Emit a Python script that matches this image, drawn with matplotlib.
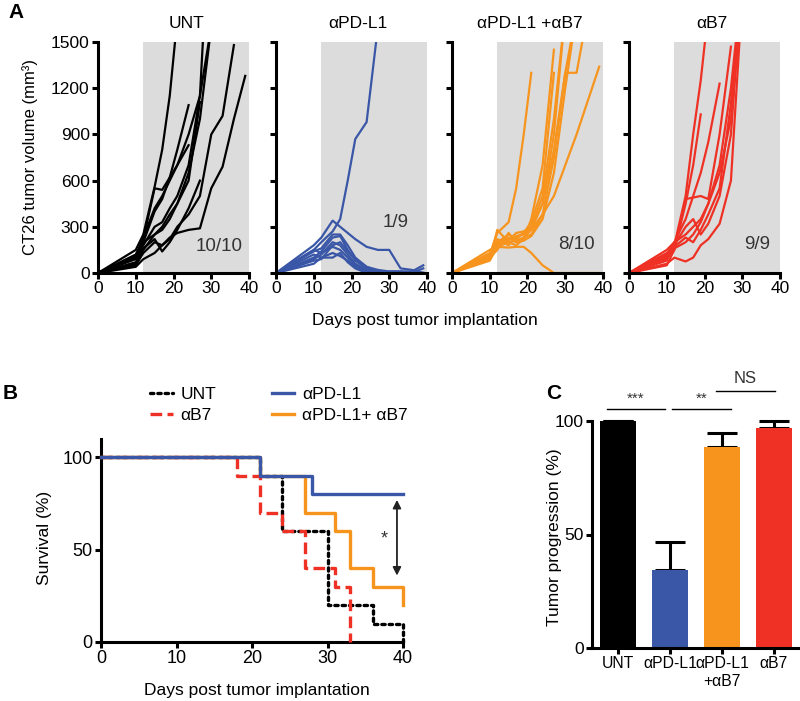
import matplotlib
matplotlib.use('Agg')
import matplotlib.pyplot as plt

plt.rcParams['font.family'] = ['Liberation Sans', 'DejaVu Sans']

# ---- panel A: individual tumour growth curves ----
days = [0, 10, 12, 15, 17, 19, 21, 24, 27, 30, 33, 36, 39]

unt_curves = [
    [0, 150, 250, 560, 800, 1150, 1650],
    [0, 120, 220, 550, 540, 620, 800, 1090],
    [0, 100, 200, 400, 480, 620, 700, 830],
    [0, 90, 180, 300, 330, 420, 500, 700, 1150, 1600],
    [0, 60, 150, 250, 300, 380, 450, 650, 1000, 1600],
    [0, 100, 230, 420, 500, 600, 700, 900, 1150, 2500],
    [0, 50, 130, 200, 180, 220, 300, 380, 500, 900, 1020, 1480],
    [0, 40, 90, 130, 180, 230, 260, 280, 290, 550, 690, 1000, 1280],
    [0, 110, 200, 250, 280, 350, 450, 600, 1110],
    [0, 70, 160, 220, 140, 200, 280, 420, 600],
]
pdl1_curves = [
    [0, 150, 200, 270, 350, 600, 870, 980, 1600],
    [0, 180, 230, 340, 300, 260, 220, 170, 150, 150, 30, 20, 0],
    [0, 140, 160, 250, 250, 180, 100, 40, 20, 10, 10, 10, 50],
    [0, 100, 140, 230, 240, 150, 80, 30, 10, 10, 10, 0, 0],
    [0, 90, 120, 200, 180, 120, 60, 20, 0, 0, 0, 0, 30],
    [0, 150, 130, 170, 150, 100, 50, 10, 0, 0, 0, 0, 0],
    [0, 60, 100, 130, 110, 80, 40, 10, 0, 0, 0, 0, 0],
    [0, 120, 100, 100, 130, 70, 30, 0, 0, 0, 0, 0, 0],
    [0, 80, 90, 180, 200, 140, 90, 40, 10, 0, 0, 0, 0],
]
combo_curves = [
    [0, 120, 260, 330, 550, 900, 1300],
    [0, 100, 200, 220, 230, 260, 280, 380, 500, 700, 900, 1120, 1340],
    [0, 150, 170, 165, 170, 170, 130, 50, 0, 0, 0, 0, 0],
    [0, 90, 280, 200, 180, 220, 350, 700, 1450],
    [0, 100, 200, 250, 220, 260, 330, 550, 1300],
    [0, 110, 180, 230, 200, 230, 280, 450, 900, 1700],
    [0, 80, 170, 200, 210, 230, 250, 380, 750, 1300, 1300, 1700],
    [0, 130, 220, 180, 240, 250, 300, 450, 800, 1300, 1700],
    [0, 100, 150, 260, 200, 210, 240, 350, 650, 1200, 1700],
    [0, 120, 190, 210, 260, 270, 300, 500, 1000, 1700],
]
b7_curves = [
    [0, 80, 180, 500, 900, 1250, 1700],
    [0, 50, 150, 450, 700, 1030],
    [0, 120, 200, 350, 500, 650, 850, 1230],
    [0, 100, 150, 480, 490, 500, 480, 900, 1470],
    [0, 150, 200, 250, 300, 350, 450, 650, 1000, 1800],
    [0, 60, 100, 75, 100, 180, 220, 320, 600, 1800],
    [0, 110, 160, 200, 250, 330, 450, 700, 1200, 1900],
    [0, 90, 180, 300, 350, 250, 320, 500, 900, 1900],
    [0, 130, 170, 230, 200, 280, 380, 550, 1100, 1900],
]
group_titles = ['UNT', 'αPD-L1', 'αPD-L1 +αB7', 'αB7']
group_counts = ['10/10', '1/9', '8/10', '9/9']
group_colors = ['#000000', '#3a57a7', '#f7941d', '#ee3124']

# ---- panel B: survival ----
unt_t = [0, 21, 24, 30, 36, 40]
unt_s = [100, 90, 60, 20, 10, 0]
pdl1_t = [0, 21, 28, 40]
pdl1_s = [100, 90, 80, 80]
b7_t = [0, 18, 21, 24, 27, 31, 33]
b7_s = [100, 90, 70, 60, 40, 30, 0]
combo_t = [0, 21, 27, 31, 33, 36, 40]
combo_s = [100, 90, 70, 60, 40, 30, 20]

# ---- panel C: tumour progression ----
bar_labels = ['UNT', 'αPD-L1', 'αPD-L1\n+αB7', 'αB7']
bar_values = [100, 34.5, 88.5, 97]
bar_err = [0, 12, 6, 3]

W, H = 800, 701
fig = plt.figure(figsize=(W / 100, H / 100), dpi=100)


def box(x0, y0, x1, y1):
    return [x0 / W, 1 - y1 / H, (x1 - x0) / W, (y1 - y0) / H]


def style(ax, size=12.5):
    for s in ['top', 'right']:
        ax.spines[s].set_visible(False)
    for s in ['left', 'bottom']:
        ax.spines[s].set_linewidth(2.2)
    ax.tick_params(width=2.2, length=4, labelsize=size, pad=2)


lefts = [98, 276, 452, 629]
title_x = [0.587, 0.54, 0.517, 0.55]
all_curves = [unt_curves, pdl1_curves, combo_curves, b7_curves]
count_pos = [(32, 175), (31.8, 325), (33, 182), (33.9, 182)]
for i, left in enumerate(lefts):
    ax = fig.add_axes(box(left, 42, left + 151, 273))
    ax.axvspan(12, 40, color='#dcdcdc', lw=0, zorder=0)
    for vols in all_curves[i]:
        ax.plot(days[:len(vols)], vols, color=group_colors[i], lw=1.6,
                solid_joinstyle='round', zorder=2)
    ax.set_xlim(0, 40)
    ax.set_ylim(0, 1500)
    ax.set_xticks([0, 10, 20, 30, 40])
    ax.set_yticks([0, 300, 600, 900, 1200, 1500])
    style(ax, 12.5)
    if i > 0:
        ax.set_yticklabels([])
    ax.text(title_x[i], 1.082, group_titles[i], transform=ax.transAxes,
            ha='center', va='center', fontsize=12.5)
    ax.text(count_pos[i][0], count_pos[i][1], group_counts[i], ha='center',
            va='center', fontsize=13.5, color='#333333', zorder=3)

fig.text(30 / W, 1 - 157 / H, 'CT26 tumor volume (mm³)', rotation=90,
         ha='center', va='center', fontsize=12)
fig.text(425 / W, 1 - 320 / H, 'Days post tumor implantation',
         ha='center', va='center', fontsize=12.5)

# panel B
axb = fig.add_axes(box(101, 439, 403, 642))
axb.step(unt_t, unt_s, where='post', color='black', lw=2.4, ls=(0, (1, 1.2)),
         label='UNT', zorder=2, dash_capstyle='round')
axb.step(b7_t, b7_s, where='post', color='#ee3124', lw=2.4, ls=(0, (3.5, 1.6)),
         label='αB7', zorder=4)
axb.step(pdl1_t, pdl1_s, where='post', color='#3a57a7', lw=2.4,
         label='αPD-L1', zorder=5)
axb.step(combo_t, combo_s, where='post', color='#f7941d', lw=2.4,
         label='αPD-L1+ αB7', zorder=3)
axb.set_xlim(0, 40)
axb.set_ylim(0, 110)
axb.set_xticks([0, 10, 20, 30, 40])
axb.set_yticks([0, 50, 100])
style(axb, 13)
for ln in axb.lines:
    ln.set_clip_on(False)
axb.annotate('', xy=(39.2, 36), xytext=(39.2, 77),
             arrowprops=dict(arrowstyle='<|-|>', color='#222222', lw=1.3,
                             mutation_scale=12, shrinkA=0, shrinkB=0))
axb.text(37.5, 56, '*', ha='center', va='center', fontsize=13, color='#333333')
h, l = axb.get_legend_handles_labels()
fig.legend(h, l, ncol=2,
           loc='upper left', bbox_to_anchor=(150 / W, 1 - 387 / H),
           frameon=False, fontsize=12.5, handlelength=1.3, handletextpad=0.45,
           columnspacing=3.2, labelspacing=0.35, borderpad=0, borderaxespad=0)
fig.text(45 / W, 1 - 538 / H, 'Survival (%)', rotation=90, ha='center',
         va='center', fontsize=12.5)
fig.text(257 / W, 1 - 690 / H, 'Days post tumor implantation', ha='center',
         va='center', fontsize=12.5)

# panel C
axc = fig.add_axes(box(592, 421, 800, 648))
xs = list(range(len(bar_values)))
axc.bar(xs, bar_values, width=0.69, color=group_colors, zorder=2,
        yerr=[[0] * len(bar_err), bar_err], capsize=11,
        error_kw=dict(elinewidth=2.2, capthick=2.2, ecolor='black',
                      clip_on=False, zorder=1))
axc.set_xlim(-0.5, 3.5)
axc.set_ylim(0, 100)
axc.set_xticks(xs)
axc.set_xticklabels(bar_labels)
axc.set_yticks([0, 50, 100])
style(axc, 12.5)
axc.tick_params(axis='x', labelsize=11.3)
for c in axc.get_children():
    try:
        c.set_clip_on(False)
    except Exception:
        pass
for x0, x1, y, lab in [(-0.21, 0.9, 105.3, '***'), (1.04, 2.17, 105.3, '**'),
                       (1.88, 3.02, 113, 'NS')]:
    axc.plot([x0, x1], [y, y], color='black', lw=1, clip_on=False)
    axc.text((x0 + x1) / 2, y + (1.2 if lab != 'NS' else 2.5), lab,
             ha='center', va='bottom', fontsize=11 if lab != 'NS' else 12,
             color='#333333')
fig.text(555 / W, 1 - 537 / H, 'Tumor progression (%)', rotation=90,
         ha='center', va='center', fontsize=12.5)

for lab, x, y in [('A', 16, 12), ('B', 10, 393), ('C', 554, 393)]:
    fig.text(x / W, 1 - y / H, lab, ha='center', va='center', fontsize=15,
             weight='bold')

fig.savefig('out.png', dpi=100)
